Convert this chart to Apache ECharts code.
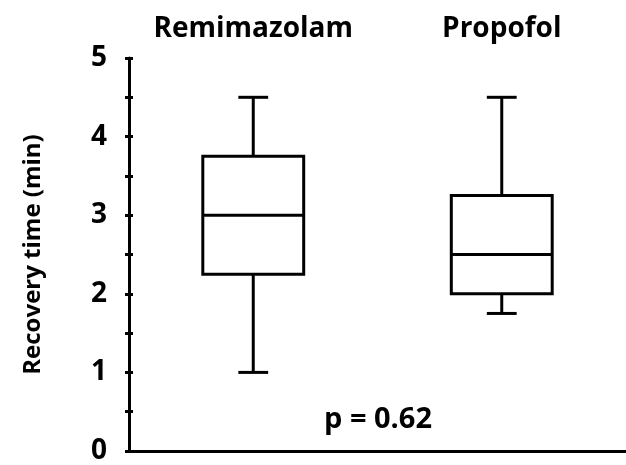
<!DOCTYPE html>
<html>
<head>
<meta charset="utf-8">
<script src="https://cdn.jsdelivr.net/npm/echarts@6/dist/echarts.min.js"></script>
<style>html,body{margin:0;padding:0;background:#fff;}#c{width:626px;height:465px;}</style>
</head>
<body>
<div id="c"></div>
<script>
const categories = ['Remimazolam', 'Propofol'];
const mins = [1.0, 1.75];
const q1s = [2.25, 2.0];
const medians = [3.0, 2.5];
const q3s = [3.75, 3.25];
const maxs = [4.5, 4.5];
const yTickLabels = ['0', '1', '2', '3', '4', '5'];
const pText = 'p = 0.62';

const FONT = '"Open Sans"';
const data = categories.map((c, i) => [i, mins[i], q1s[i], medians[i], q3s[i], maxs[i]]);

const chart = echarts.init(document.getElementById('c'));
chart.setOption({
  animation: false,
  backgroundColor: '#fff',
  grid: { left: 129, right: 0, top: 58, bottom: 12 },
  xAxis: [
    { type: 'category', data: categories, position: 'bottom',
      axisLine: { lineStyle: { color: '#000', width: 3 } },
      axisTick: { show: false }, axisLabel: { show: false }, splitLine: { show: false } },
    { type: 'category', data: categories, position: 'top',
      axisLine: { show: false }, axisTick: { show: false },
      axisLabel: { interval: 0, hideOverlap: false, margin: 15, color: '#000', fontFamily: FONT, fontWeight: 'bold', fontSize: 28 } }
  ],
  yAxis: [
    { type: 'value', min: 0, max: 5, interval: 1, position: 'left',
      name: 'Recovery time (min)', nameLocation: 'middle', nameGap: 84,
      nameTextStyle: { color: '#000', fontFamily: FONT, fontWeight: 'bold', fontSize: 24 },
      axisLine: { show: true, lineStyle: { color: '#000', width: 3 } },
      axisTick: { show: true, length: 4, lineStyle: { color: '#000', width: 3 } },
      minorTick: { show: true, splitNumber: 2, length: 4, lineStyle: { color: '#000', width: 3 } },
      axisLabel: { margin: 22, color: '#000', fontFamily: FONT, fontWeight: 'bold', fontSize: 28,
        formatter: v => yTickLabels[Math.round(v)] },
      splitLine: { show: false } },
    { type: 'value', min: 0, max: 5, interval: 1, position: 'left',
      axisLine: { show: false },
      axisTick: { show: true, inside: true, length: 4, lineStyle: { color: '#000', width: 3 } },
      minorTick: { show: true, splitNumber: 2, length: 4, lineStyle: { color: '#000', width: 3 } },
      axisLabel: { show: false }, splitLine: { show: false } }
  ],
  graphic: [
    { type: 'text', x: 378, y: 420, style: { text: pText, align: 'center', verticalAlign: 'middle',
      fill: '#000', font: 'bold 29px "Open Sans"' } }
  ],
  series: [{
    type: 'custom',
    xAxisIndex: 0, yAxisIndex: 0,
    data: data,
    encode: { x: 0, y: [1, 2, 3, 4, 5] },
    renderItem: function (params, api) {
      const idx = api.value(0);
      const bw = api.size([1, 0])[0];
      const half = bw * 0.203;
      const capHalf = bw * 0.06;
      const pMin = api.coord([idx, api.value(1)]);
      const pQ1 = api.coord([idx, api.value(2)]);
      const pMed = api.coord([idx, api.value(3)]);
      const pQ3 = api.coord([idx, api.value(4)]);
      const pMax = api.coord([idx, api.value(5)]);
      const cx = pMed[0];
      const ls = { stroke: '#000', lineWidth: 3, fill: null };
      return {
        type: 'group',
        children: [
          { type: 'line', shape: { x1: cx, y1: pMax[1], x2: cx, y2: pQ3[1] }, style: ls },
          { type: 'line', shape: { x1: cx, y1: pQ1[1], x2: cx, y2: pMin[1] }, style: ls },
          { type: 'line', shape: { x1: cx - capHalf, y1: pMax[1], x2: cx + capHalf, y2: pMax[1] }, style: ls },
          { type: 'line', shape: { x1: cx - capHalf, y1: pMin[1], x2: cx + capHalf, y2: pMin[1] }, style: ls },
          { type: 'rect', shape: { x: cx - half, y: pQ3[1], width: half * 2, height: pQ1[1] - pQ3[1] },
            style: { stroke: '#000', lineWidth: 3, fill: '#fff' } },
          { type: 'line', shape: { x1: cx - half, y1: pMed[1], x2: cx + half, y2: pMed[1] }, style: ls }
        ]
      };
    }
  }]
});
</script>
</body>
</html>
